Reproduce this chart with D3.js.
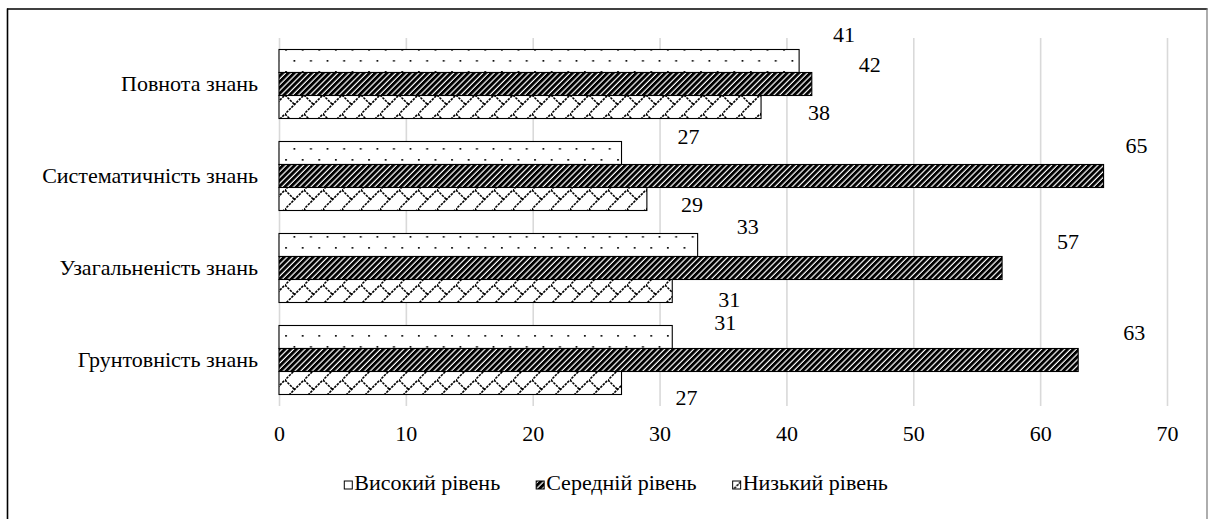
<!DOCTYPE html>
<html><head><meta charset="utf-8">
<script src="https://cdn.jsdelivr.net/npm/d3@7"></script>
<style>
html,body{margin:0;padding:0;background:#fff;}
svg{display:block;}
</style></head>
<body>
<svg id="fig" width="1209" height="519"></svg>
<script>
// ---- data ----
const categories = ["Повнота знань", "Систематичність знань", "Узагальненість знань", "Грунтовність знань"];
const seriesNames = ["Високий рівень", "Середній рівень", "Низький рівень"];
const highValues = [41, 27, 33, 31];
const midValues = [42, 65, 57, 63];
const lowValues = [38, 29, 31, 27];
const xTickValues = [0, 10, 20, 30, 40, 50, 60, 70];

// ---- layout / style ----
const FS = "22px";
const FONT = `"Liberation Serif"`;
const plot = {left: 279, right: 1167, top: 38, bottom: 406};
const patternIds = ["pDots", "pHatch", "pBrick"];
// data-label displacement (px) from bar end / bar centre, per series, per category
const labelDx = [[45, 67, 50, 53], [58, 33, 66, 56], [58, 45, 57, 65]];
const labelDy = [[-26, -16, -18, -14], [-19, -30, -26, -27], [6, 6, 9, 15]];

const svg = d3.select("#fig");
const defs = svg.append("defs");
function setFont(sel) {
  return sel.attr("font-family", null)
    .style("font-family", FONT, "important")
    .style("font-size", FS, "important")
    .style("fill", "#000");
}

// dotted pattern
const pd = defs.append("pattern").attr("id", "pDots").attr("patternUnits", "userSpaceOnUse")
  .attr("width", 16.6).attr("height", 22).attr("x", 0).attr("y", 0);
pd.append("rect").attr("width", 16.6).attr("height", 22).attr("fill", "#fff");
pd.append("rect").attr("x", 3).attr("y", 5).attr("width", 1.7).attr("height", 1.7).attr("fill", "#000");
pd.append("rect").attr("x", 11.3).attr("y", 16).attr("width", 1.7).attr("height", 1.7).attr("fill", "#000");

// dense diagonal hatch
const ph = defs.append("pattern").attr("id", "pHatch").attr("patternUnits", "userSpaceOnUse")
  .attr("width", 4.1).attr("height", 10).attr("patternTransform", "rotate(45)");
ph.append("rect").attr("width", 4.1).attr("height", 10).attr("fill", "#fff");
ph.append("rect").attr("width", 2.9).attr("height", 10).attr("fill", "#000");

// diagonal brick pattern
const pb = defs.append("pattern").attr("id", "pBrick").attr("patternUnits", "userSpaceOnUse")
  .attr("width", 19).attr("height", 19);
pb.append("rect").attr("width", 19).attr("height", 19).attr("fill", "#fff");
pb.append("path").attr("d", "M-1,20 L20,-1 M0,0 L9.5,9.5")
  .attr("stroke", "#000").attr("stroke-width", 1.6).attr("stroke-dasharray", "2.5,1").attr("fill", "none");

// frame
svg.append("line").attr("x1", 7.5).attr("x2", 7.5).attr("y1", 8.5).attr("y2", 519).attr("stroke", "#000").attr("stroke-width", 1.6);
svg.append("line").attr("x1", 7).attr("x2", 1207.5).attr("y1", 9).attr("y2", 9).attr("stroke", "#000").attr("stroke-width", 1.6);
svg.append("line").attr("x1", 1207).attr("x2", 1207).attr("y1", 8.5).attr("y2", 519).attr("stroke", "#777").attr("stroke-width", 1.2);

// scales
const x = d3.scaleLinear().domain([0, 70]).range([plot.left, plot.right]);
const y = d3.scaleBand().domain(categories).range([plot.top, plot.bottom]).paddingInner(0.25).paddingOuter(0.125);
const ys = d3.scaleBand().domain(seriesNames).range([0, y.bandwidth()]);

// gridlines
const grid = svg.append("g").attr("transform", `translate(0,${plot.bottom})`)
  .call(d3.axisBottom(x).tickValues(xTickValues).tickSize(-(plot.bottom - plot.top)).tickFormat(""));
grid.select(".domain").remove();
grid.selectAll(".tick line").attr("stroke", "#d9d9d9").attr("stroke-width", 1.6);

// x tick labels
const xa = svg.append("g").attr("transform", `translate(0,${plot.bottom})`)
  .call(d3.axisBottom(x).tickValues(xTickValues).tickSize(0).tickPadding(0));
xa.attr("font-family", null).attr("font-size", null);
xa.select(".domain").remove();
setFont(xa.selectAll(".tick text").attr("y", 0).attr("dy", 34.5));

// category labels
const ya = svg.append("g").attr("transform", `translate(${plot.left},0)`)
  .call(d3.axisLeft(y).tickSize(0).tickPadding(21));
ya.attr("font-family", null).attr("font-size", null);
ya.select(".domain").remove();
setFont(ya.selectAll(".tick text").attr("dy", "0.33em"));

// bars
const seriesValues = [highValues, midValues, lowValues];
seriesNames.forEach((s, si) => {
  const vals = seriesValues[si];
  const g = svg.append("g");
  g.selectAll("rect").data(categories).join("rect")
    .attr("x", x(0))
    .attr("y", c => y(c) + ys(s))
    .attr("width", (c, i) => x(vals[i]) - x(0))
    .attr("height", ys.bandwidth())
    .attr("fill", `url(#${patternIds[si]})`)
    .attr("stroke", "#000").attr("stroke-width", 1.1);
  setFont(g.selectAll("text").data(categories).join("text")
    .attr("x", (c, i) => x(vals[i]) + labelDx[si][i])
    .attr("y", (c, i) => y(c) + ys(s) + ys.bandwidth() / 2 + labelDy[si][i])
    .attr("dy", "0.34em")
    .attr("text-anchor", "middle")
    .text((c, i) => vals[i]));
});

// legend
const legend = svg.append("g");
const items = [];
seriesNames.forEach((s, si) => {
  const it = legend.append("g");
  it.append("rect").attr("x", 0).attr("y", -9).attr("width", 8).attr("height", 8)
    .attr("fill", `url(#${patternIds[si]})`).attr("stroke", "#000").attr("stroke-width", 1);
  const t = setFont(it.append("text").attr("x", 10).attr("y", 0).text(s));
  const w = 10 + t.node().getComputedTextLength();
  items.push({it, w});
});
const gap = 36;
const total = d3.sum(items, d => d.w) + gap * (items.length - 1);
let cx = 616 - total / 2;
items.forEach(d => { d.it.attr("transform", `translate(${cx},490)`); cx += d.w + gap; });
</script>
</body></html>
